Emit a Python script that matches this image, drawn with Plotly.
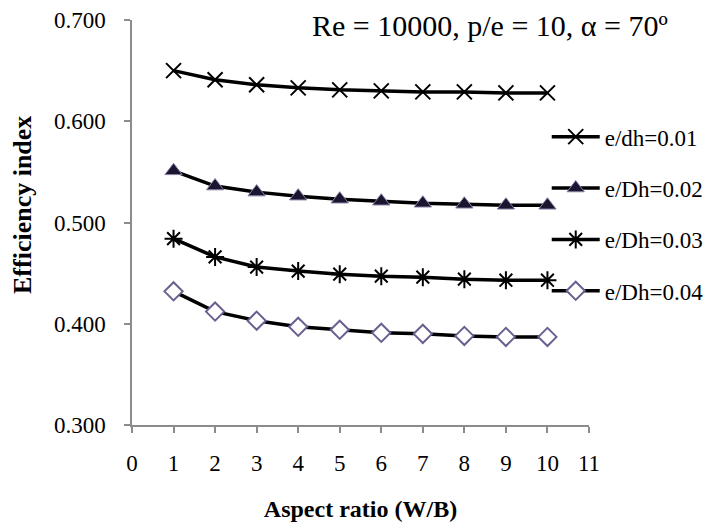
import plotly.graph_objects as go

aspect_ratio = [1, 2, 3, 4, 5, 6, 7, 8, 9, 10]
eff_001 = [0.650, 0.641, 0.636, 0.633, 0.631, 0.630, 0.629, 0.629, 0.628, 0.628]
eff_002 = [0.551, 0.536, 0.530, 0.526, 0.523, 0.521, 0.519, 0.518, 0.517, 0.517]
eff_003 = [0.484, 0.466, 0.456, 0.452, 0.449, 0.447, 0.446, 0.444, 0.443, 0.443]
eff_004 = [0.432, 0.412, 0.403, 0.397, 0.394, 0.391, 0.390, 0.388, 0.387, 0.387]
series_names = ["e/dh=0.01", "e/Dh=0.02", "e/Dh=0.03", "e/Dh=0.04"]
x_ticks = list(range(0, 12))
y_ticks = [0.3, 0.4, 0.5, 0.6, 0.7]

FONT = "Liberation Serif"
PLOT_L, PLOT_T, PLOT_W, PLOT_H = 124, 12, 457, 405

fig = go.Figure()
fig.add_trace(go.Scatter(
    x=aspect_ratio, y=eff_001, name=series_names[0], mode="lines+markers",
    legendgroup="a",
    line=dict(color="black", width=3.5),
    marker=dict(symbol="x-thin-open", size=15, color="black", line=dict(color="black", width=2)),
))
fig.add_trace(go.Scatter(
    x=aspect_ratio, y=eff_002, name=series_names[1], mode="lines+markers",
    legendgroup="b",
    line=dict(color="black", width=3.5),
    marker=dict(symbol="triangle-up", size=15, color="#1c1530", line=dict(color="#8a7fa6", width=1)),
))
fig.add_trace(go.Scatter(
    x=aspect_ratio, y=eff_003, name=series_names[2], mode="lines+markers",
    legendgroup="c",
    line=dict(color="black", width=3.5),
    marker=dict(symbol="asterisk-open", size=15, color="black", line=dict(color="black", width=2)),
))
fig.add_trace(go.Scatter(
    x=aspect_ratio, y=eff_004, name=series_names[3], mode="lines+markers",
    legendgroup="d",
    line=dict(color="black", width=3.5),
    marker=dict(symbol="diamond", size=14, color="white", line=dict(color="#6b5f90", width=2)),
))


def px_to_paper_x(px):
    return (px - PLOT_L) / PLOT_W


def px_to_paper_y(py):
    return (PLOT_T + PLOT_H - py) / PLOT_H


fig.update_layout(
    width=704, height=514,
    margin=dict(l=PLOT_L, r=704 - PLOT_L - PLOT_W, t=PLOT_T, b=514 - PLOT_T - PLOT_H, autoexpand=False),
    paper_bgcolor="white", plot_bgcolor="white",
    font=dict(family=FONT, size=21, color="black"),
    showlegend=True,
    legend=dict(
        x=0.9075, xanchor="left", y=0.765, yanchor="top",
        bgcolor="rgba(0,0,0,0)", font=dict(family=FONT, size=23, color="black"),
        tracegroupgap=18.5, itemwidth=48,
    ),
    annotations=[
        dict(
            text="Re = 10000, p/e = 10, α = 70º", xref="paper", yref="paper",
            x=px_to_paper_x(482), y=px_to_paper_y(17), xanchor="center", yanchor="middle",
            showarrow=False, font=dict(family=FONT, size=30, color="black"),
        ),
        dict(
            text="<b>Efficiency index</b>", xref="paper", yref="paper",
            x=px_to_paper_x(14), y=px_to_paper_y(197), xanchor="center", yanchor="middle",
            textangle=-90, showarrow=False, font=dict(family=FONT, size=26, color="black"),
        ),
    ],
)
fig.update_xaxes(
    range=[0, 11], tickvals=x_ticks, ticktext=[str(v) for v in x_ticks],
    showgrid=False, zeroline=False, showline=True, linecolor="#8c8c8c", linewidth=1.5,
    ticks="outside", ticklen=6, tickcolor="#8c8c8c", tickwidth=1.5,
    ticklabelstandoff=11, automargin=False,
    tickfont=dict(family=FONT, size=23),
    title=dict(text="<b>Aspect ratio (W/B)</b>", font=dict(family=FONT, size=24), standoff=35),
)
fig.update_yaxes(
    range=[0.3, 0.7], tickvals=y_ticks, ticktext=["%.3f" % v for v in y_ticks],
    showgrid=False, zeroline=False, showline=True, linecolor="#8c8c8c", linewidth=1.5,
    ticks="outside", ticklen=6, tickcolor="#8c8c8c", tickwidth=1.5,
    ticklabelstandoff=14, automargin=False,
    tickfont=dict(family=FONT, size=23),
)

fig.write_html("out.html")
